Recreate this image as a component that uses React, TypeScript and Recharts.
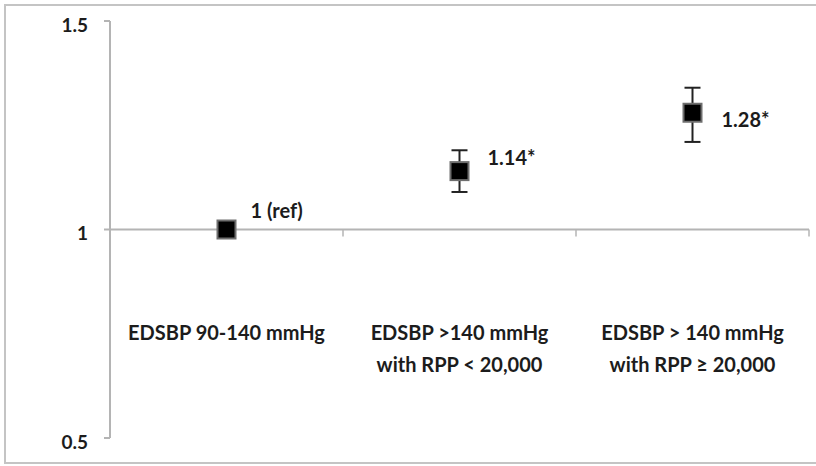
import { ComposedChart, Scatter, XAxis, YAxis, ErrorBar, ReferenceLine, LabelList } from 'recharts';

const categories = ['EDSBP 90-140 mmHg', 'EDSBP >140 mmHg\nwith RPP < 20,000', 'EDSBP > 140 mmHg\nwith RPP \u2265 20,000'];
const ratios = [1, 1.14, 1.28];
const ciLow = [1, 1.09, 1.21];
const ciHigh = [1, 1.19, 1.34];
const pointLabels = ['1 (ref)', '1.14*', '1.28*'];
const yTicks = [0.5, 1, 1.5];

const data = categories.map((name, i) => ({
  name,
  value: ratios[i],
  err: [ratios[i] - ciLow[i], ciHigh[i] - ratios[i]],
  label: pointLabels[i],
}));

const FONT = 'Lato, "Open Sans", sans-serif';
const TEXT = '#1c1c1c';
const AXIS = '#b4b4b4';

// where Excel put each data label relative to its marker
const labelOffsets = [
  [24, -20],
  [28, -14],
  [29, 6],
];

const Square = (props: any) => {
  const { cx, cy } = props;
  return <rect x={cx - 9} y={cy - 9} width={18} height={18} fill="#000" stroke="#6e6e6e" strokeWidth={2} />;
};

const BaseLine = (props: any) => {
  const { x1, x2, y1 } = props;
  const step = (x2 - x1) / categories.length;
  return (
    <g>
      <line x1={x1} x2={x2} y1={y1} y2={y1} stroke={AXIS} strokeWidth={2} />
      {categories.map((_, i) => (
        <line key={i} x1={x1 + step * (i + 1)} x2={x1 + step * (i + 1)} y1={y1} y2={y1 + 7} stroke={AXIS} strokeWidth={1.5} />
      ))}
    </g>
  );
};

const CategoryTick = (props: any) => {
  const { x, y, payload } = props;
  const lines = String(payload.value).split('\n');
  return (
    <text x={x} y={y - 106} textAnchor="middle" fill={TEXT} fontFamily={FONT} fontWeight="bold" fontSize={20}>
      {lines.map((l, i) => (
        <tspan key={i} x={x} dy={i === 0 ? 0 : 32}>{l}</tspan>
      ))}
    </text>
  );
};

const PointLabel = (props: any) => {
  const { x, y, width, height, value, index } = props;
  const cx = x + width / 2;
  const cy = y + height / 2;
  const [dx, dy] = labelOffsets[index] || [24, -14];
  return (
    <text x={cx + dx} y={cy + dy} dominantBaseline="central" fill={TEXT} fontFamily={FONT} fontWeight="bold" fontSize={20}>
      {value}
    </text>
  );
};

export default function App() {
  return (
    <div style={{ position: 'absolute', left: 0, top: 0, width: 816, height: 466, background: '#fff', overflow: 'hidden' }}>
      <div style={{ position: 'absolute', left: 4, top: 4, width: 830, height: 456, border: '2px solid #c4c4c4' }} />
      <ComposedChart width={816} height={466} data={data} margin={{ top: 21, right: 7, bottom: 0, left: 0 }}>
        <XAxis dataKey="name" type="category" scale="band" axisLine={false} tickLine={false} height={28} tick={<CategoryTick />} interval={0} />
        <YAxis
          type="number"
          domain={[0.5, 1.5]}
          ticks={yTicks}
          width={110}
          axisLine={{ stroke: AXIS, strokeWidth: 2 }}
          tickLine={{ stroke: AXIS, strokeWidth: 2 }}
          tickSize={6}
          tickMargin={16}
          tick={{ fill: TEXT, fontFamily: FONT, fontWeight: 'bold', fontSize: 19, dy: 4 }}
        />
        <ReferenceLine y={1} shape={<BaseLine />} />
        <Scatter dataKey="value" shape={<Square />} isAnimationActive={false}>
          <ErrorBar dataKey="err" direction="y" width={8} stroke="#222" strokeWidth={2} />
          <LabelList dataKey="label" content={<PointLabel />} />
        </Scatter>
      </ComposedChart>
    </div>
  );
}
